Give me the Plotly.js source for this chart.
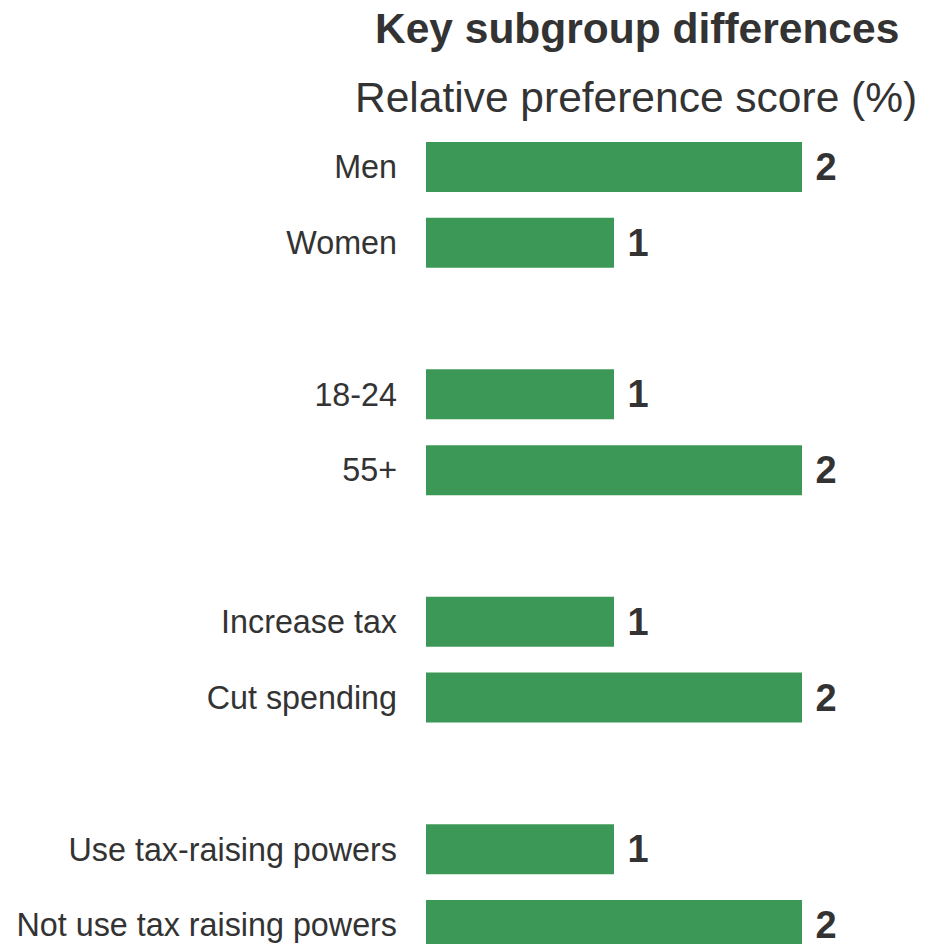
<!DOCTYPE html>
<html>
<head>
<meta charset="utf-8">
<script src="https://cdn.plot.ly/plotly-3.0.1.min.js"></script>
<style>html,body{margin:0;padding:0;background:#fff;}#chart{width:929px;height:944px;}</style>
</head>
<body>
<div id="chart"></div>
<script>
const categories = ['Men', 'Women', ' ', '18-24', '55+', '  ', 'Increase tax', 'Cut spending', '   ', 'Use tax-raising powers', 'Not use tax raising powers'];
const scores = [2, 1, null, 1, 2, null, 1, 2, null, 1, 2];
const chartTitle = 'Key subgroup differences';
const chartSubtitle = 'Relative preference score (%)';

const textColor = '#333333';
const font = 'Liberation Sans, Arial, sans-serif';

const W = 929, H = 944;
const M = {l: 426, r: 127, t: 129, b: 0};
const plotW = W - M.l - M.r, plotH = H - M.t - M.b;
const pxToPaperX = p => (p - M.l) / plotW;
const pxToPaperY = p => (H - M.b - p) / plotH;

const trace = {
  type: 'bar',
  orientation: 'h',
  y: categories,
  x: scores,
  width: 0.66,
  marker: {color: '#3c9856'},
  text: scores.map(v => v === null ? '' : '\u00a0' + v),
  textposition: 'outside',
  textfont: {family: font, size: 38, color: textColor, weight: 'bold'},
  cliponaxis: false,
  hoverinfo: 'skip'
};

const layout = {
  width: W, height: H,
  margin: {l: M.l, r: M.r, t: M.t, b: M.b, pad: 0},
  paper_bgcolor: '#ffffff', plot_bgcolor: '#ffffff',
  showlegend: false,
  font: {family: font, color: textColor},
  xaxis: {range: [0, 2], showgrid: false, zeroline: false, showticklabels: false, showline: false, fixedrange: true},
  yaxis: {
    type: 'category', categoryorder: 'array', categoryarray: categories,
    range: [10.25, -0.5], autorange: false,
    showgrid: false, zeroline: false, showline: false, ticks: '',
    ticklabelstandoff: 28,
    tickfont: {family: font, size: 32.3, color: textColor}
  },
  annotations: [
    {text: '<b>' + chartTitle + '</b>', xref: 'paper', yref: 'paper', x: pxToPaperX(637), y: pxToPaperY(28),
     xanchor: 'center', yanchor: 'middle', showarrow: false,
     font: {family: font, size: 42.5, color: textColor}},
    {text: chartSubtitle, xref: 'paper', yref: 'paper', x: pxToPaperX(636), y: pxToPaperY(97),
     xanchor: 'center', yanchor: 'middle', showarrow: false,
     font: {family: font, size: 42.5, color: textColor}}
  ]
};

Plotly.newPlot('chart', [trace], layout, {displayModeBar: false, staticPlot: true});
</script>
</body>
</html>
